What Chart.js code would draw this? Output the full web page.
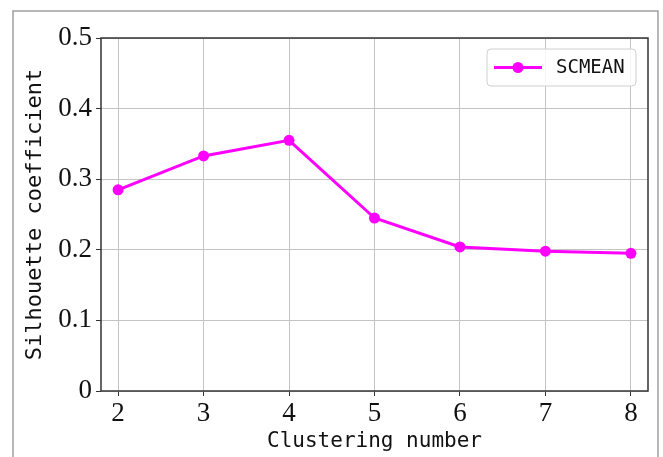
<!DOCTYPE html>
<html>
<head>
<meta charset="utf-8">
<script src="https://cdn.jsdelivr.net/npm/chart.js@4"></script>
<style>
  html, body { margin: 0; padding: 0; background: #fff; }
  #wrap { width: 663px; height: 457px; }
</style>
</head>
<body>
<div id="wrap"><canvas id="chart" width="663" height="457"></canvas></div>
<script>
// ---- data ----
const clusterNumbers = [2, 3, 4, 5, 6, 7, 8];
const scmeanValues = [0.285, 0.333, 0.355, 0.245, 0.204, 0.198, 0.195];
const yTicks = [0, 0.1, 0.2, 0.3, 0.4, 0.5];
const seriesLabel = "SCMEAN";

const MAGENTA = "#ff00ff";
const MONO = "'DejaVu Sans Mono', monospace";
const SERIF = "'Liberation Serif', 'Times New Roman', serif";

// frame, top/right spines and the legend box
const decorations = {
  id: "decorations",
  beforeDraw(chart) {
    const ctx = chart.ctx;
    ctx.save();
    ctx.strokeStyle = "#a0a0a0";
    ctx.lineWidth = 1.5;
    ctx.beginPath();
    ctx.moveTo(13, 460);
    ctx.lineTo(13, 11);
    ctx.lineTo(658, 11);
    ctx.lineTo(658, 460);
    ctx.stroke();
    ctx.restore();
  },
  afterDraw(chart) {
    const ctx = chart.ctx;
    const a = chart.chartArea;
    ctx.save();
    ctx.strokeStyle = "#333";
    ctx.lineWidth = 1.5;
    ctx.strokeRect(a.left, a.top, a.right - a.left, a.bottom - a.top);

    // legend
    const bx = 487, by = 49, bw = 149, bh = 37;
    ctx.fillStyle = "rgba(255,255,255,0.85)";
    ctx.strokeStyle = "#d0d0d0";
    ctx.lineWidth = 1;
    ctx.beginPath();
    ctx.roundRect(bx, by, bw, bh, 4);
    ctx.fill();
    ctx.stroke();
    const ly = by + bh / 2;
    ctx.strokeStyle = MAGENTA;
    ctx.lineWidth = 3;
    ctx.beginPath();
    ctx.moveTo(494, ly);
    ctx.lineTo(542, ly);
    ctx.stroke();
    ctx.fillStyle = MAGENTA;
    ctx.beginPath();
    ctx.arc(518, ly, 5.5, 0, Math.PI * 2);
    ctx.fill();
    ctx.fillStyle = "#111";
    ctx.font = "19px " + MONO;
    ctx.textBaseline = "middle";
    ctx.fillText(chart.data.datasets[0].label, 556, ly + 1);
    ctx.restore();
  }
};

new Chart(document.getElementById("chart"), {
  type: "line",
  data: {
    datasets: [{
      label: seriesLabel,
      data: clusterNumbers.map((x, i) => ({ x: x, y: scmeanValues[i] })),
      borderColor: MAGENTA,
      backgroundColor: MAGENTA,
      borderWidth: 3,
      pointRadius: 5.5,
      pointBackgroundColor: MAGENTA,
      pointBorderWidth: 0,
      tension: 0
    }]
  },
  options: {
    responsive: false,
    animation: false,
    layout: { padding: { left: 0, top: 38, right: 15, bottom: 0 } },
    plugins: { legend: { display: false }, tooltip: { enabled: false } },
    scales: {
      x: {
        type: "linear",
        min: 1.8,
        max: 8.2,
        afterBuildTicks: s => { s.ticks = clusterNumbers.map(v => ({ value: v })); },
        afterFit: s => { s.height = 66; },
        grid: { color: "#c4c4c4", lineWidth: 1, tickColor: "#333", tickLength: 5 },
        border: { display: false },
        ticks: { color: "#111", padding: 2, font: { family: SERIF, size: 27 }, maxRotation: 0 },
        title: {
          display: true,
          text: "Clustering number",
          color: "#111",
          font: { family: MONO, size: 21 },
          padding: { top: 0, bottom: 3 }
        }
      },
      y: {
        min: 0,
        max: 0.5,
        afterBuildTicks: s => { s.ticks = yTicks.map(v => ({ value: v })); },
        afterFit: s => { s.width = 101; },
        grid: { color: "#c4c4c4", lineWidth: 1, tickColor: "#333", tickLength: 5 },
        border: { display: false },
        ticks: { color: "#111", padding: 4, font: { family: SERIF, size: 27 } },
        title: {
          display: true,
          text: "Silhouette coefficient",
          color: "#111",
          font: { family: MONO, size: 22 },
          padding: { top: 22, bottom: 0 }
        }
      }
    }
  },
  plugins: [decorations]
});
</script>
</body>
</html>
